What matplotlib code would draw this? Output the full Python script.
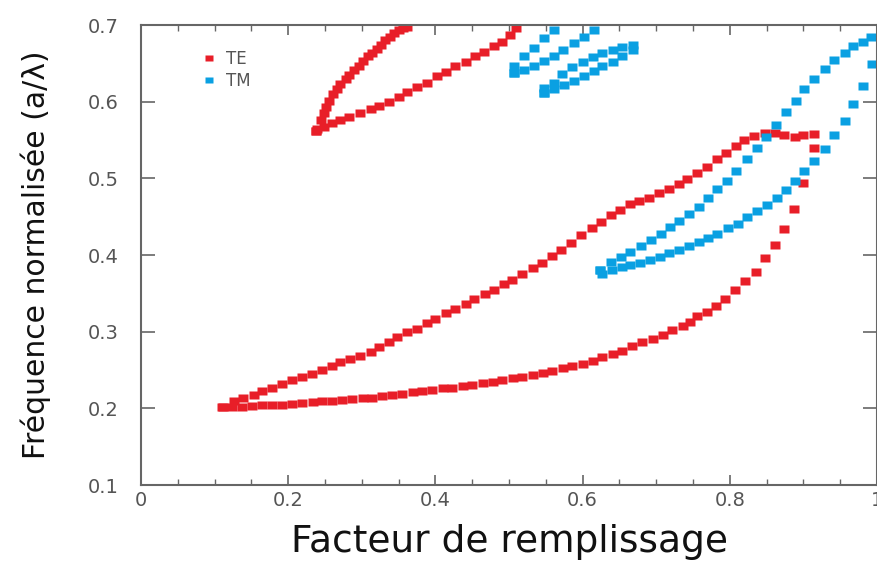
import matplotlib.pyplot as plt
from matplotlib.ticker import MultipleLocator

# Bandes interdites TE / TM en fonction du facteur de remplissage
# TE : grande bande, branche basse puis branche haute
te_bas_x = [0.110, 0.124, 0.137, 0.151, 0.165, 0.178, 0.192, 0.205, 0.219, 0.233,
            0.246, 0.260, 0.273, 0.287, 0.301, 0.314, 0.328, 0.341, 0.355, 0.369,
            0.382, 0.396, 0.410, 0.423, 0.437, 0.450, 0.464, 0.478, 0.491, 0.505,
            0.518, 0.532, 0.546, 0.559, 0.573, 0.586, 0.600, 0.614, 0.627, 0.641,
            0.654, 0.667, 0.681, 0.695, 0.709, 0.722, 0.736, 0.746,
            0.756, 0.769, 0.781, 0.793, 0.807, 0.821, 0.835, 0.848, 0.861, 0.873,
            0.887, 0.899, 0.915]
te_bas_y = [0.202, 0.202, 0.202, 0.203, 0.204, 0.204, 0.205, 0.206, 0.207, 0.208,
            0.209, 0.210, 0.211, 0.212, 0.213, 0.214, 0.216, 0.217, 0.219, 0.221,
            0.223, 0.224, 0.226, 0.227, 0.229, 0.231, 0.233, 0.235, 0.237, 0.239,
            0.241, 0.244, 0.246, 0.249, 0.252, 0.255, 0.258, 0.262, 0.267, 0.271,
            0.275, 0.281, 0.286, 0.291, 0.296, 0.302, 0.308, 0.313,
            0.320, 0.326, 0.334, 0.342, 0.354, 0.366, 0.378, 0.396, 0.413, 0.434,
            0.460, 0.494, 0.540]

te_haut_x = [0.112, 0.126, 0.139, 0.153, 0.164, 0.178, 0.191, 0.205, 0.219, 0.232,
             0.246, 0.260, 0.271, 0.284, 0.298, 0.312, 0.323, 0.337, 0.348, 0.362,
             0.375, 0.388, 0.400, 0.414, 0.427, 0.441, 0.452, 0.467, 0.479, 0.493,
             0.504, 0.518, 0.532, 0.545, 0.559, 0.571, 0.584, 0.598, 0.613, 0.625,
             0.638, 0.651, 0.664, 0.677, 0.690, 0.704, 0.717, 0.731, 0.742, 0.756,
             0.769, 0.782, 0.795, 0.808, 0.819, 0.833, 0.848, 0.861, 0.874,
             0.888, 0.900, 0.914]
te_haut_y = [0.202, 0.209, 0.213, 0.218, 0.223, 0.227, 0.232, 0.237, 0.241, 0.245,
             0.250, 0.255, 0.260, 0.264, 0.268, 0.274, 0.280, 0.286, 0.293, 0.299,
             0.304, 0.311, 0.317, 0.324, 0.329, 0.336, 0.342, 0.349, 0.355, 0.362,
             0.368, 0.375, 0.383, 0.390, 0.399, 0.407, 0.416, 0.426, 0.435, 0.443,
             0.452, 0.459, 0.466, 0.471, 0.475, 0.481, 0.486, 0.493, 0.499, 0.507,
             0.515, 0.525, 0.533, 0.542, 0.550, 0.555, 0.559, 0.559, 0.557,
             0.554, 0.556, 0.558]

# TE : petite bande en haut (deux branches depuis la pointe)
te_sup_g_x = [0.238, 0.239, 0.244, 0.248, 0.252, 0.256, 0.261, 0.266, 0.271, 0.278,
              0.283, 0.290, 0.296, 0.302, 0.308, 0.314, 0.320, 0.326, 0.332, 0.338,
              0.344, 0.350, 0.356, 0.362]
te_sup_g_y = [0.562, 0.565, 0.576, 0.585, 0.593, 0.601, 0.610, 0.617, 0.623, 0.629,
              0.635, 0.641, 0.647, 0.653, 0.659, 0.664, 0.669, 0.674, 0.680, 0.685,
              0.689, 0.694, 0.696, 0.697]
te_sup_d_x = [0.238, 0.248, 0.260, 0.271, 0.283, 0.298, 0.312, 0.323, 0.337, 0.350,
              0.362, 0.375, 0.388, 0.402, 0.415, 0.427, 0.441, 0.454, 0.466, 0.479,
              0.491, 0.502, 0.509]
te_sup_d_y = [0.562, 0.567, 0.572, 0.576, 0.580, 0.585, 0.590, 0.594, 0.600, 0.606,
              0.612, 0.619, 0.625, 0.633, 0.639, 0.646, 0.652, 0.659, 0.665, 0.672,
              0.678, 0.687, 0.696]

# TM : trois bandes
tm_a_haut_x = [0.507, 0.507, 0.520, 0.534, 0.547, 0.561]
tm_a_haut_y = [0.637, 0.647, 0.659, 0.670, 0.683, 0.694]
tm_a_bas_x = [0.507, 0.521, 0.534, 0.548, 0.561, 0.574, 0.588, 0.602, 0.615]
tm_a_bas_y = [0.637, 0.641, 0.647, 0.653, 0.660, 0.668, 0.677, 0.685, 0.694]

tm_b_haut_x = [0.547, 0.547, 0.561, 0.572, 0.586, 0.600, 0.614, 0.627, 0.641, 0.654, 0.668]
tm_b_haut_y = [0.611, 0.618, 0.625, 0.636, 0.645, 0.652, 0.658, 0.663, 0.667, 0.671, 0.674]
tm_b_bas_x = [0.547, 0.561, 0.575, 0.588, 0.602, 0.615, 0.627, 0.641, 0.654, 0.668]
tm_b_bas_y = [0.611, 0.617, 0.622, 0.627, 0.634, 0.640, 0.646, 0.652, 0.659, 0.667]

tm_c_bas_x = [0.624, 0.627, 0.640, 0.654, 0.665, 0.678, 0.692, 0.705, 0.717, 0.731,
              0.745, 0.758, 0.771, 0.783, 0.797, 0.811, 0.824, 0.837, 0.850, 0.864,
              0.876, 0.888, 0.901, 0.915, 0.929, 0.942, 0.956, 0.968, 0.981, 0.993]
tm_c_bas_y = [0.381, 0.375, 0.380, 0.385, 0.387, 0.390, 0.394, 0.398, 0.402, 0.407,
              0.412, 0.417, 0.422, 0.428, 0.435, 0.441, 0.449, 0.457, 0.465, 0.475,
              0.485, 0.497, 0.509, 0.523, 0.538, 0.556, 0.575, 0.597, 0.621, 0.649]
tm_c_haut_x = [0.624, 0.638, 0.652, 0.665, 0.679, 0.693, 0.706, 0.719, 0.731, 0.745,
               0.758, 0.771, 0.783, 0.796, 0.808, 0.824, 0.837, 0.849, 0.863, 0.876,
               0.890, 0.901, 0.915, 0.929, 0.942, 0.956, 0.967, 0.981, 0.992]
tm_c_haut_y = [0.381, 0.391, 0.397, 0.404, 0.412, 0.420, 0.427, 0.436, 0.445, 0.454,
               0.463, 0.474, 0.486, 0.497, 0.510, 0.525, 0.539, 0.554, 0.570, 0.586,
               0.601, 0.617, 0.630, 0.642, 0.654, 0.663, 0.672, 0.678, 0.685]

x_ticks = [0, 0.2, 0.4, 0.6, 0.8, 1.0]
x_labels = ['0', '0.2', '0.4', '0.6', '0.8', '1']
y_ticks = [0.1, 0.2, 0.3, 0.4, 0.5, 0.6, 0.7]
y_labels = ['0.1', '0.2', '0.3', '0.4', '0.5', '0.6', '0.7']

rouge = '#e81e28'
bleu = '#0aa0e2'
gris = '#555555'
# petit rectangle un peu plus large que haut
carre = [(-1.25, -1), (1.25, -1), (1.25, 1), (-1.25, 1)]

fig = plt.figure(figsize=(8.77, 5.66), dpi=100)
ax = fig.add_axes([0.1608, 0.1431, 0.8392, 0.8127])

te_courbes = [(te_bas_x, te_bas_y), (te_haut_x, te_haut_y),
              (te_sup_g_x, te_sup_g_y), (te_sup_d_x, te_sup_d_y)]
tm_courbes = [(tm_a_haut_x, tm_a_haut_y), (tm_a_bas_x, tm_a_bas_y),
              (tm_b_haut_x, tm_b_haut_y), (tm_b_bas_x, tm_b_bas_y),
              (tm_c_bas_x, tm_c_bas_y), (tm_c_haut_x, tm_c_haut_y)]

poignees = []
for courbes, coul in [(te_courbes, rouge), (tm_courbes, bleu)]:
    for i, (x, y) in enumerate(courbes):
        l, = ax.plot(x, y, ls='none', marker=carre, ms=7.3, mfc=coul, mec='none')
        if i == 0:
            poignees.append(l)

leg = ax.legend(poignees, ['TE', 'TM'], loc='upper left', bbox_to_anchor=(0.065, 0.978),
                frameon=False, fontsize=12, handlelength=0.6, handletextpad=0.7,
                labelspacing=0.25, markerscale=0.8, labelcolor=gris)

ax.set_xlim(0, 1)
ax.set_ylim(0.1, 0.7)
ax.set_xticks(x_ticks)
ax.set_xticklabels(x_labels)
ax.set_yticks(y_ticks)
ax.set_yticklabels(y_labels)
ax.xaxis.set_minor_locator(MultipleLocator(0.05))

ax.tick_params(axis='x', which='major', direction='in', length=7, width=1.2,
               top=True, pad=4, labelsize=14, color='#666666', labelcolor=gris)
ax.tick_params(axis='x', which='minor', direction='in', length=4, width=1.0,
               top=True, color='#666666')
ax.tick_params(axis='y', which='major', direction='in', length=10, width=1.2,
               right=True, pad=16, labelsize=14, color='#666666', labelcolor=gris)

for s in ax.spines.values():
    s.set_color('#666666')
    s.set_linewidth(1.5)

ax.set_xlabel('Facteur de remplissage', fontsize=27, color='#111111')
ax.xaxis.set_label_coords(0.5, -0.084)
ax.set_ylabel('Fréquence normalisée (a/λ)', fontsize=21.5, color='#111111')
ax.yaxis.set_label_coords(-0.122, 0.5)

plt.savefig('out.png', dpi=100)
